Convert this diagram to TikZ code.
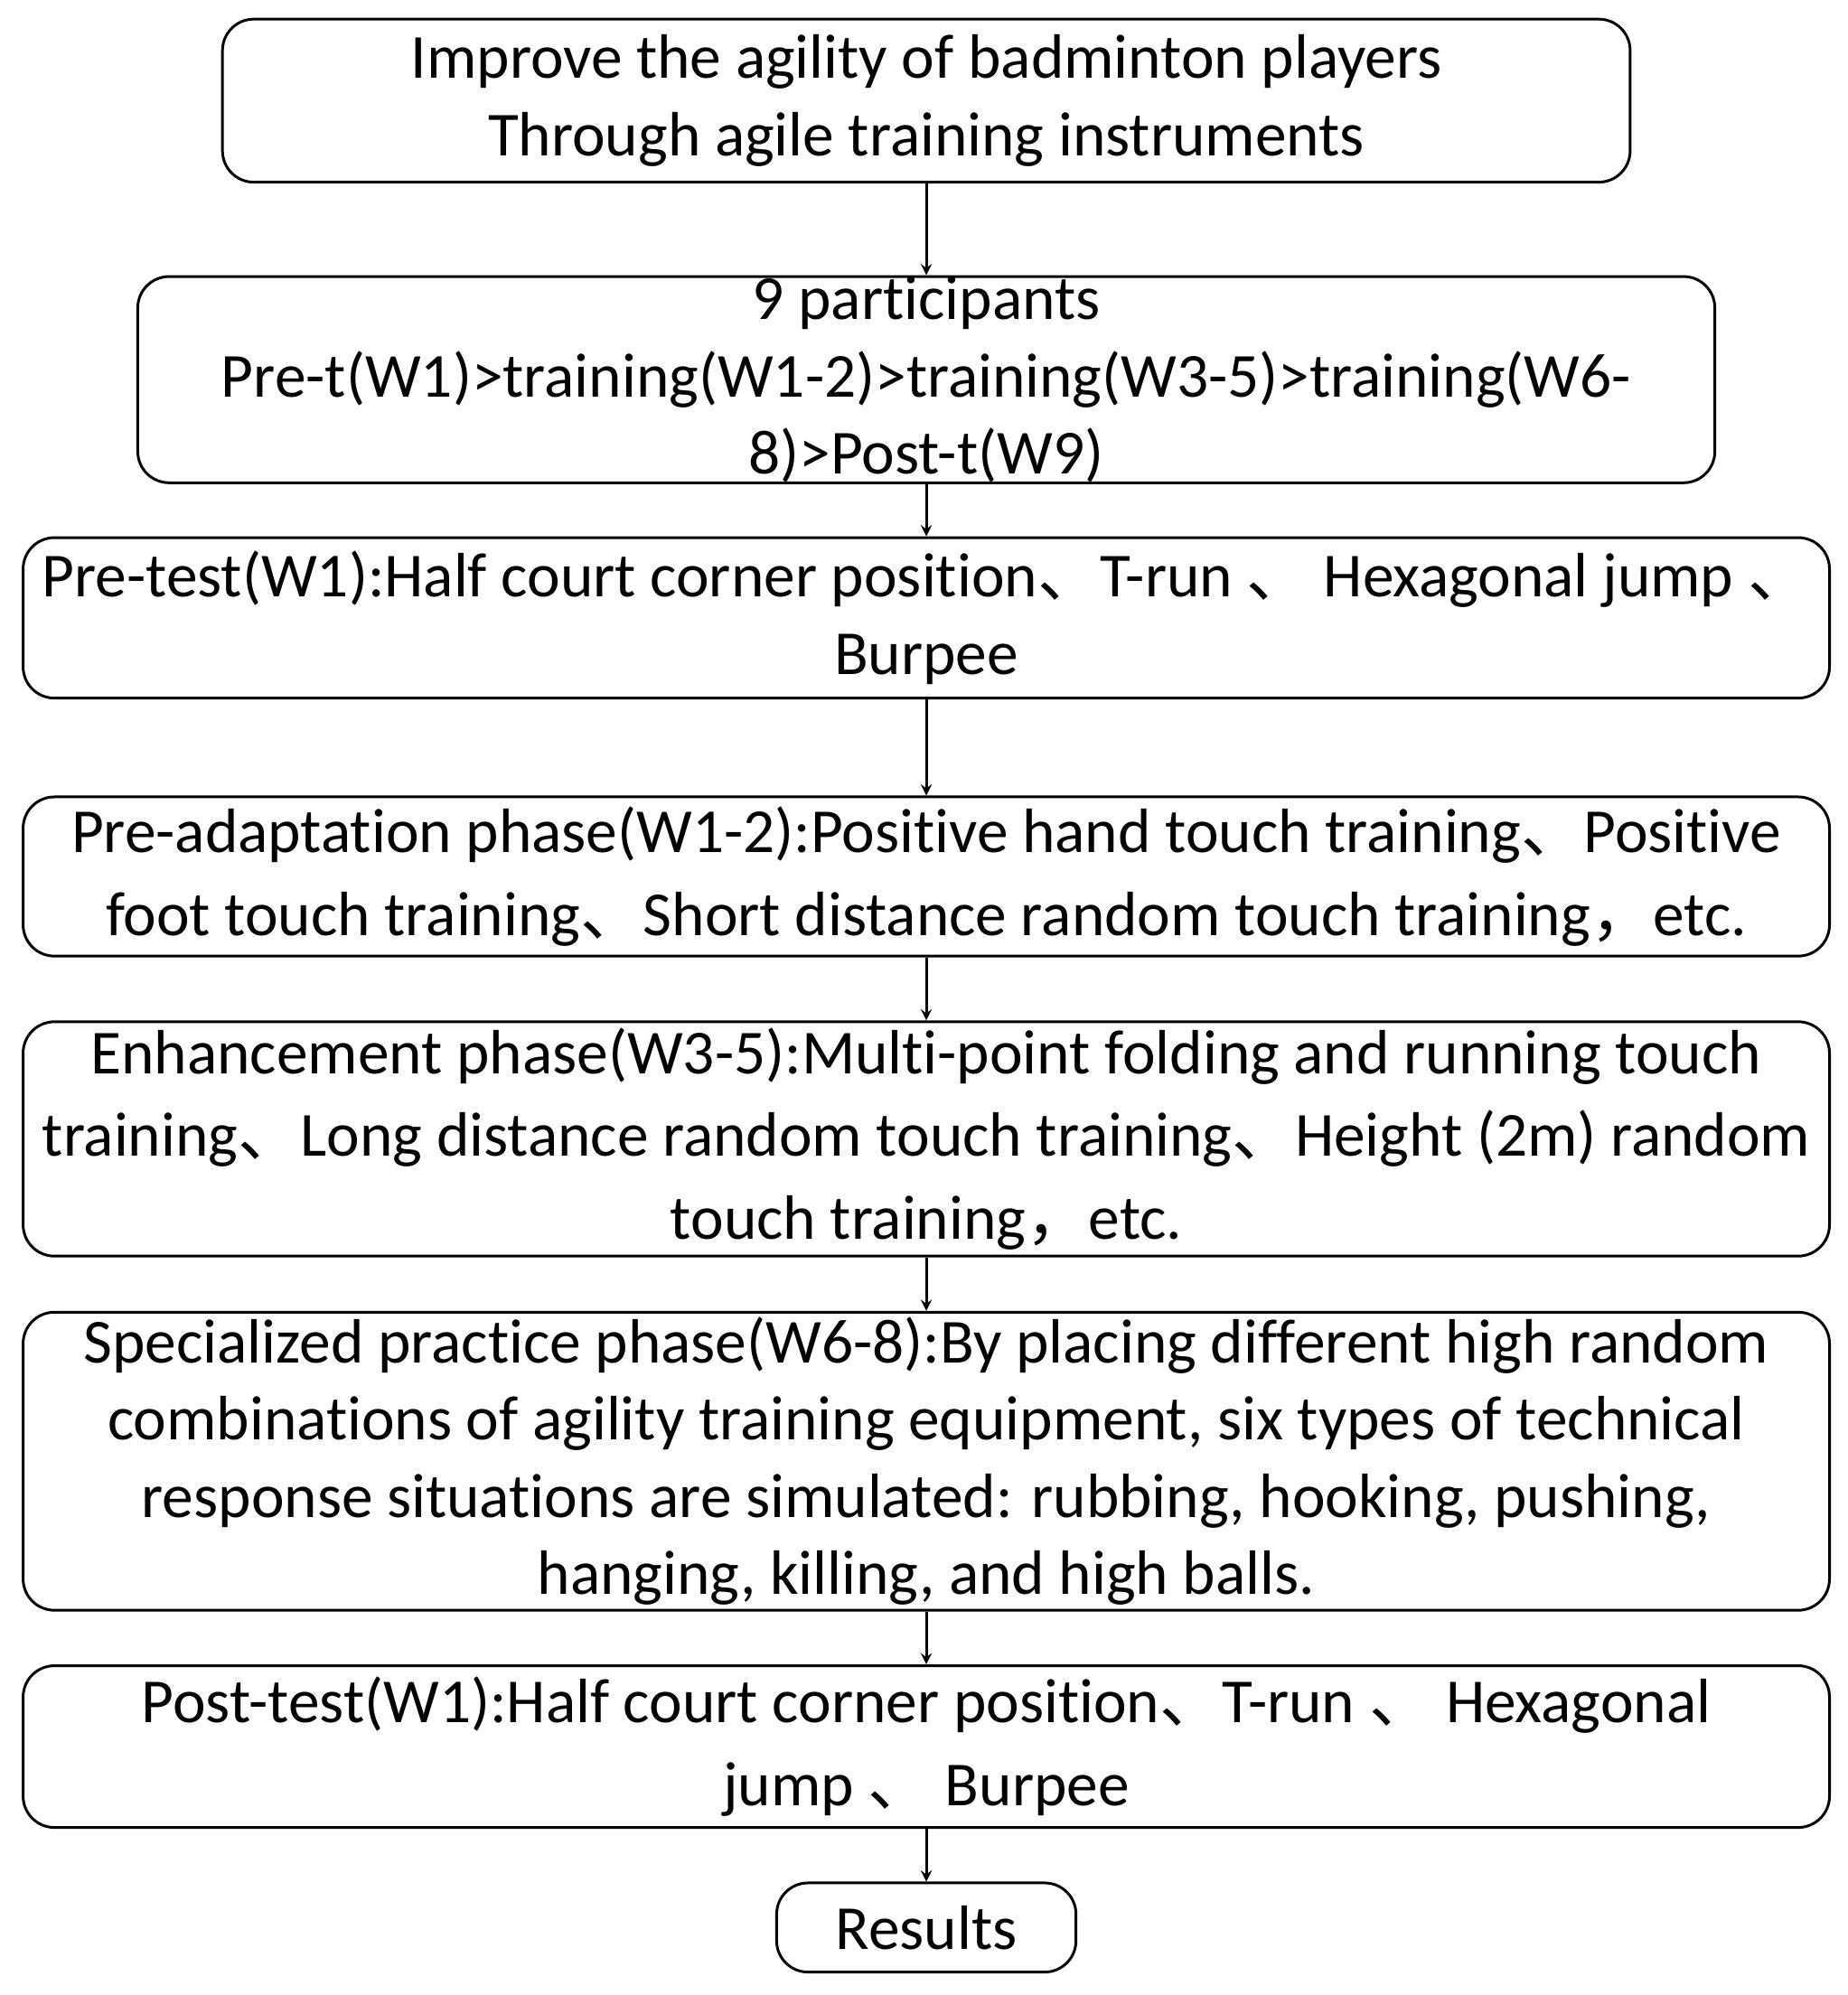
\documentclass[tikz,border=0pt]{standalone}
\usepackage{fontspec}
\setmainfont{Carlito}[Ligatures={NoCommon}]
\newfontfamily\cjk{Noto Sans CJK SC}
\newcommand{\dn}{{\cjk 、}}
\newcommand{\cm}{{\cjk ，}}
\begin{document}
\begin{tikzpicture}[x=0.02cm,y=-0.02cm,
  box/.style={draw,line width=1.2pt,rounded corners=14pt,align=center,inner sep=0pt,
    font=\fontsize{28}{34.5}\selectfont},
  wide/.style={font=\fontsize{28}{37}\selectfont},
  arr/.style={-{Stealth[length=12pt,width=10pt,open]},line width=1.2pt}]
\useasboundingbox (0,0) rectangle (1450,1566);
\node[box,minimum width=22.1cm,minimum height=2.56cm] (b1) at (727,79)
 {Improve the agility of badminton players\\Through agile training instruments};
\node[box,minimum width=24.76cm,minimum height=3.2cm] (b2) at (727,298)
 {9 participants\\Pre-t(W1)>training(W1-2)>training(W3-5)>training(W6-\\8)>Post-t(W9)};
\node[box,minimum width=28.36cm,minimum height=2.52cm] (b3) at (727,485)
 {Pre-test(W1):Half court corner position\dn T-run \dn\ Hexagonal jump \dn\\Burpee};
\node[box,wide,minimum width=28.36cm,minimum height=2.5cm] (b4) at (727,688)
 {Pre-adaptation phase(W1-2):Positive hand touch training\dn Positive\\foot touch training\dn Short distance random touch training\cm etc.};
\node[box,wide,minimum width=28.36cm,minimum height=3.68cm] (b5) at (727,894)
 {Enhancement phase(W3-5):Multi-point folding and running touch\\training\dn Long distance random touch training\dn Height (2m) random\\touch training\cm etc.};
\node[box,minimum width=28.36cm,minimum height=4.68cm] (b6) at (727,1147)
 {Specialized practice phase(W6-8):By placing different high random\\combinations of agility training equipment, six types of technical\\response situations are simulated: rubbing, hooking, pushing,\\hanging, killing, and high balls.};
\node[box,wide,minimum width=28.36cm,minimum height=2.54cm] (b7) at (727,1371)
 {Post-test(W1):Half court corner position\dn T-run \dn\ Hexagonal\\jump \dn\ Burpee};
\node[box,minimum width=4.7cm,minimum height=1.4cm] (b8) at (727,1513) {Results};
\foreach \a/\b in {b1/b2,b2/b3,b3/b4,b4/b5,b5/b6,b6/b7,b7/b8}
  \draw[-stealth,line width=1.2pt] (\a.south) -- (\b.north);
\end{tikzpicture}
\end{document}
